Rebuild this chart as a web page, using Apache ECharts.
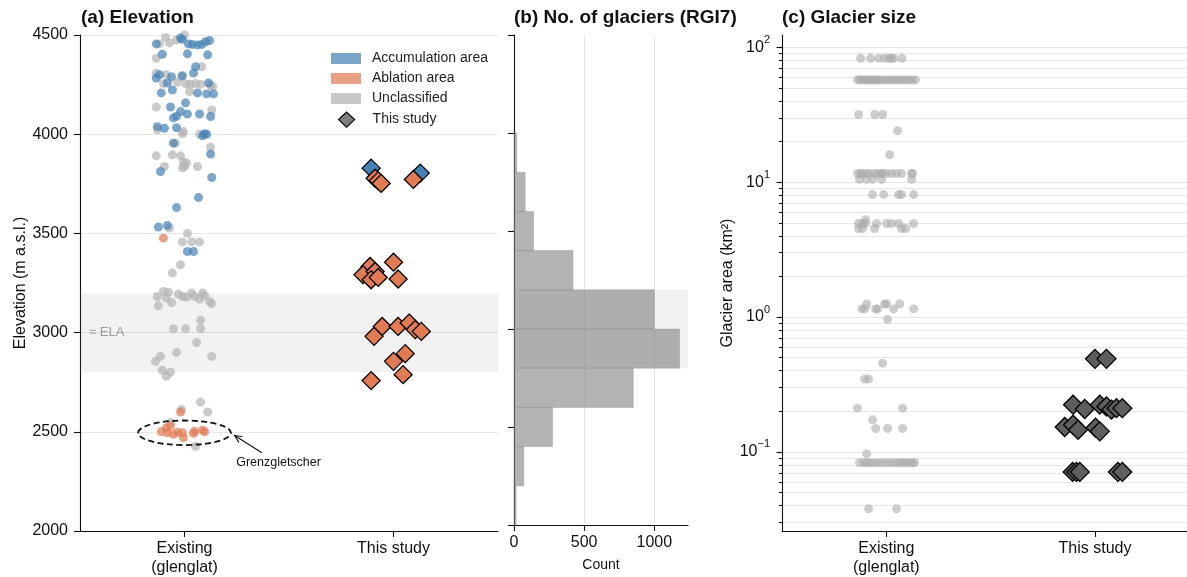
<!DOCTYPE html>
<html><head><meta charset="utf-8">
<script src="https://cdn.jsdelivr.net/npm/echarts@6.0.0/dist/echarts.min.js"></script>
<style>html,body{margin:0;padding:0;background:#fff}#c{width:1187px;height:577px}</style>
</head><body><div id="c"></div>
<script>
// ---------- text ----------
const categories = ['Existing\n(glenglat)', 'This study'];
const panelTitles = ['(a) Elevation', '(b) No. of glaciers (RGI7)', '(c) Glacier size'];
const legendNames = ['Accumulation area', 'Ablation area', 'Unclassified', 'This study'];

// ---------- panel (a): existing glenglat points (elevation m a.s.l., jitter in category units) ----------
const accElev = [4455,4485,4478,4455,4452,4450,4452,4466,4472,4403,4405,4400,4283,4300,4290,4295,4308,4340,4258,4223,4258,4208,4208,4203,4203,4137,4158,4114,4090,4082,4102,4102,4089,4038,4030,4033,3992,4002,4000,3955,3900,3812,3782,3681,3630,3532,3540,3409,3409];
const accJit = [-0.135,-0.019,-0.010,0.019,0.038,0.062,0.082,0.101,0.120,-0.106,0.014,0.111,-0.135,-0.120,-0.062,-0.010,0.043,0.053,-0.082,-0.058,0.115,-0.111,0.062,0.106,0.139,-0.067,0.005,-0.019,-0.038,-0.053,0.014,0.072,0.125,-0.130,-0.096,-0.038,0.087,0.096,0.106,-0.053,0.125,-0.115,0.130,0.067,-0.038,-0.125,-0.082,0.014,0.043];
const ablElev = [3476,2600,2500,2520,2495,2530,2487,2498,2495,2470,2503,2492,2508,2500];
const ablJit = [-0.101,-0.019,-0.111,-0.087,-0.082,-0.067,-0.053,-0.034,-0.010,-0.005,0.048,0.043,0.087,0.096];
const uncElev = [4500,4488,4475,4455,4460,4383,4307,4300,4290,4262,4255,4252,4255,4252,4245,4340,4215,4240,4255,4137,4122,4022,4013,4002,4000,3935,3955,3891,3896,3891,3860,3854,3837,3837,3837,3830,3527,3500,3457,3457,3457,3342,3300,
  3182,3207,3204,3194,3182,3199,3182,3199,3186,3157,3145,3152,3135,3174,3179,3169,
  3062,3020,3020,3020,2950,2900,2880,2880,2855,2810,2800,2780,2650,2612,2600,2548,2427];
const uncJit = [0.000,-0.091,-0.038,-0.120,-0.072,-0.135,-0.135,-0.087,-0.014,-0.034,0.005,0.029,0.053,0.077,0.125,0.082,0.024,0.135,-0.101,-0.135,0.130,-0.130,-0.005,-0.010,0.072,0.125,-0.043,-0.135,-0.058,-0.019,-0.005,0.010,0.000,0.062,-0.096,-0.010,-0.072,0.014,-0.010,0.034,0.072,-0.019,-0.058,
  -0.130,-0.101,-0.077,-0.029,-0.010,0.034,0.048,0.087,0.096,0.120,0.130,-0.062,-0.125,-0.087,0.010,0.072,
  0.077,-0.053,0.005,0.077,0.058,-0.038,0.130,-0.115,-0.139,-0.106,-0.067,-0.087,0.077,-0.014,0.111,-0.067,0.053];

// ---------- panel (a): this study ----------
const studyAccElev = [3829, 3804];
const studyAccJit = [-0.107, 0.128];
const studyAblElev = [3778,3765,3752,3772,3333,3292,3308,3266,3278,3355,3270,3031,2981,3031,3048,3015,3006,2894,2855,2788,2758];
const studyAblJit = [-0.088,-0.073,-0.059,0.095,-0.112,-0.146,-0.088,-0.107,-0.073,0.000,0.022,-0.054,-0.093,0.022,0.075,0.104,0.133,0.056,0.000,0.046,-0.107];

// ELA band and annotation
const elaBand = [2800, 3200];
const elaText = '≈ ELA';
const annEllipse = [0, 2495, 0.222, 62];   // centre x, centre elev, x radius, elev radius
const annArrowFrom = [0.37, 2394];
const annArrowTo = [0.24, 2481];
const annTextPos = [0.45, 2343];
const annText = 'Grenzgletscher';

// ---------- panel (b): RGI7 histogram ----------
const histEdges = [2000,2200,2400,2600,2800,3000,3200,3400,3600,3800,4000];
const histCounts = [15,70,275,850,1180,1000,420,140,80,20];
const countTicks = [0, 500, 1000];

// ---------- panel (c): glacier size (km²) ----------
const exRowArea = [83, 57.4, 31.8, 24.1, 16, 11.6, 10.5, 8.1, 4.94, 5.28, 4.54, 1.25, 1.15, 0.96, 0.455, 0.347, 0.211, 0.173, 0.149, 0.097, 0.083, 0.0378];
const exRowJitter = [
  [-0.123,-0.075,-0.036,-0.008,0.012,0.024,0.036,0.075],
  [-0.138,-0.128,-0.118,-0.109,-0.100,-0.090,-0.080,-0.071,-0.061,-0.051,-0.042,-0.032,-0.018,-0.003,0.011,0.025,0.040,0.054,0.069,0.083,0.097,0.112,0.126,0.140],
  [-0.133,-0.056,-0.018],
  [0.054],
  [0.016],
  [-0.138,-0.123,-0.114,-0.094,-0.080,-0.056,-0.042,-0.027,-0.018,0.001,0.025,0.049,0.073,0.121,0.126],
  [-0.128,-0.094,-0.066,-0.023,0.121],
  [-0.066,-0.013,0.059,0.073,0.131],
  [-0.133,-0.114,-0.100,-0.047,0.001,0.025,0.059,0.131],
  [-0.100],
  [-0.133,-0.114,-0.056,0.073,0.093],
  [-0.094,-0.008,0.001,0.064],
  [-0.118,-0.104,-0.051,-0.042,0.035,0.131],
  [0.006],
  [-0.018],
  [-0.104,-0.085],
  [-0.138,0.078],
  [-0.066],
  [-0.051,0.006,0.078],
  [-0.094],
  [-0.128,-0.109,-0.094,-0.080,-0.061,-0.042,-0.023,-0.003,0.016,0.035,0.054,0.069,0.083,0.097,0.112,0.126,0.136],
  [-0.085,0.049]
];
const studyArea = [0.49,0.49,0.224,0.208,0.224,0.217,0.206,0.211,0.211,0.153,0.159,0.146,0.151,0.142,0.071,0.071,0.071,0.071,0.071];
const studyAreaJit = [0.0,0.055,-0.105,-0.049,0.023,0.055,0.079,0.103,0.131,-0.145,-0.105,-0.081,0.003,0.023,-0.107,-0.089,-0.073,0.110,0.131];
const areaRange = [0.0259, 123.6];
const majorExps = [-1, 0, 1, 2];
const minorMult = [2,3,4,5,6,7,8,9];

// ---------- build ----------
const ACC = '#4682b4', ABL = '#e07b54', UNC = '#b3b3b3';
const FONT = 'Liberation Sans';
const lg = Math.log10;
const pts = (jit, vals, base) => jit.map((j, i) => [base + j, vals[i]]);

const logMin = lg(areaRange[0]), logMax = lg(areaRange[1]);
const majorLog = majorExps.slice();
const allLog = [];
for (let k = -2; k <= 2; k++) {
  allLog.push(k);
  minorMult.forEach(m => allLog.push(k + lg(m)));
}
const gridLog = allLog.filter(v => v >= logMin && v <= logMax);

const exAreaData = [];
exRowArea.forEach((a, r) => exRowJitter[r].forEach(j => exAreaData.push([j, lg(a)])));
const studyAreaData = studyAreaJit.map((j, i) => [1 + j, lg(studyArea[i])]);

const axisLineStyle = {color: '#111', width: 1.1};
const tickStyle = {color: '#111', width: 1.1};
const plain = v => String(Math.round(v));
const catAxisCommon = {
  type: 'value', min: -0.5,
  axisLine: {show: true, onZero: false, lineStyle: axisLineStyle},
  axisTick: {show: true, length: 6, lineStyle: tickStyle, customValues: [0, 1]},
  axisLabel: {customValues: [0, 1], formatter: v => categories[Math.round(v)], fontSize: 16, color: '#111', lineHeight: 19, margin: 8},
  splitLine: {show: false}
};
const sup = e => (e < 0 ? '\u2212' + Math.abs(e) : '' + e);

const option = {
  animation: false,
  textStyle: {fontFamily: FONT},
  title: [
    {text: panelTitles[0], left: 81, top: 8, padding: 0, textStyle: {fontSize: 19, fontWeight: 'bold', color: '#111', fontFamily: FONT}},
    {text: panelTitles[1], left: 514, top: 8, padding: 0, textStyle: {fontSize: 19, fontWeight: 'bold', color: '#111', fontFamily: FONT}},
    {text: panelTitles[2], left: 782, top: 8, padding: 0, textStyle: {fontSize: 19, fontWeight: 'bold', color: '#111', fontFamily: FONT}}
  ],
  legend: [
    {orient: 'vertical', left: 326, top: 46.5, itemWidth: 30, itemHeight: 11, itemGap: 6, selectedMode: false,
     textStyle: {fontSize: 14, color: '#222', lineHeight: 14, padding: [0, 0, 0, 6]},
     data: [
       {name: legendNames[0], icon: 'rect', itemStyle: {color: ACC, opacity: 0.72}},
       {name: legendNames[1], icon: 'rect', itemStyle: {color: ABL, opacity: 0.72}},
       {name: legendNames[2], icon: 'rect', itemStyle: {color: UNC, opacity: 0.72}}
     ]},
    {orient: 'vertical', left: 333, top: 106.5, itemWidth: 16, itemHeight: 15, selectedMode: false,
     textStyle: {fontSize: 14, color: '#222', lineHeight: 14, padding: [0, 0, 0, 13]},
     data: [{name: legendNames[3], icon: 'diamond', itemStyle: {color: '#7f7f7f', borderColor: '#000', borderWidth: 1.2}}]}
  ],
  grid: [
    {left: 80, top: 35, width: 418, height: 497},
    {left: 514, top: 35, width: 174, height: 497},
    {left: 782, top: 35, width: 405, height: 497}
  ],
  xAxis: [
    Object.assign({}, catAxisCommon, {gridIndex: 0, max: 1.5}),
    {type: 'value', gridIndex: 1, min: 0, max: 1240,
     name: 'Count', nameLocation: 'middle', nameGap: 33, nameTextStyle: {fontSize: 14, color: '#111'},
     axisLine: {show: true, onZero: false, lineStyle: axisLineStyle},
     axisTick: {show: true, length: 6, lineStyle: tickStyle, customValues: countTicks},
     axisLabel: {customValues: countTicks, formatter: plain, fontSize: 16, color: '#111', lineHeight: 19, margin: 8},
     splitLine: {show: true, lineStyle: {color: '#e6e6e6', width: 1}}},
    Object.assign({}, catAxisCommon, {gridIndex: 2, max: 1.441})
  ],
  yAxis: [
    {type: 'value', gridIndex: 0, min: 2000, max: 4500, interval: 500,
     name: 'Elevation (m a.s.l.)', nameLocation: 'middle', nameGap: 51, nameTextStyle: {fontSize: 16, color: '#111'},
     axisLine: {show: true, onZero: false, lineStyle: axisLineStyle},
     axisTick: {show: true, length: 6, lineStyle: tickStyle},
     axisLabel: {fontSize: 16, color: '#111', margin: 12, formatter: plain},
     splitLine: {show: true, lineStyle: {color: '#e6e6e6', width: 1}}},
    {type: 'value', gridIndex: 1, min: 2000, max: 4500, interval: 500,
     axisLine: {show: true, onZero: false, lineStyle: axisLineStyle},
     axisTick: {show: true, length: 6, lineStyle: tickStyle},
     axisLabel: {show: false},
     splitLine: {show: false}},
    {type: 'value', gridIndex: 2, min: logMin, max: logMax,
     name: 'Glacier area (km²)', nameLocation: 'middle', nameGap: 45, nameTextStyle: {fontSize: 16, color: '#111'},
     axisLine: {show: true, onZero: false, lineStyle: axisLineStyle},
     axisTick: {show: true, length: 3, lineStyle: tickStyle, customValues: gridLog},
     axisLabel: {customValues: majorLog, margin: 12, color: '#111',
       formatter: v => '{b|10}{s|' + sup(Math.round(v)) + '}',
       rich: {b: {fontSize: 16, lineHeight: 26, color: '#111', fontFamily: FONT},
              s: {fontSize: 11, lineHeight: 11, verticalAlign: 'top', color: '#111', fontFamily: FONT}}},
     splitLine: {show: true, lineStyle: {color: '#e6e6e6', width: 1}}},
    {type: 'value', gridIndex: 2, min: logMin, max: logMax, position: 'left',
     axisLine: {show: false, onZero: false},
     axisTick: {show: true, length: 5.5, lineStyle: tickStyle, customValues: majorLog},
     axisLabel: {show: false},
     splitLine: {show: false}}
  ],
  series: [
    // panel (a)
    {name: legendNames[2], type: 'scatter', xAxisIndex: 0, yAxisIndex: 0, symbolSize: 9,
     itemStyle: {color: UNC, opacity: 0.7}, data: pts(uncJit, uncElev, 0), z: 2,
     markArea: {silent: true, itemStyle: {color: 'rgba(128,128,128,0.1)'},
       label: {show: true, position: 'insideLeft', distance: 9, formatter: elaText, color: '#999', fontSize: 13, fontFamily: FONT},
       data: [[{yAxis: elaBand[0]}, {yAxis: elaBand[1]}]]}},
    {name: legendNames[0], type: 'scatter', xAxisIndex: 0, yAxisIndex: 0, symbolSize: 9,
     itemStyle: {color: ACC, opacity: 0.7}, data: pts(accJit, accElev, 0), z: 3},
    {name: legendNames[1], type: 'scatter', xAxisIndex: 0, yAxisIndex: 0, symbolSize: 9,
     itemStyle: {color: ABL, opacity: 0.7}, data: pts(ablJit, ablElev, 0), z: 3},
    {name: legendNames[3], type: 'scatter', xAxisIndex: 0, yAxisIndex: 0, symbol: 'diamond', symbolSize: 18,
     itemStyle: {color: ACC, borderColor: '#000', borderWidth: 1.3, opacity: 1}, data: pts(studyAccJit, studyAccElev, 1), z: 4},
    {name: legendNames[3], type: 'scatter', xAxisIndex: 0, yAxisIndex: 0, symbol: 'diamond', symbolSize: 18,
     itemStyle: {color: ABL, borderColor: '#000', borderWidth: 1.3, opacity: 1}, data: pts(studyAblJit, studyAblElev, 1), z: 5},
    {type: 'custom', xAxisIndex: 0, yAxisIndex: 0, z: 6, silent: true,
     data: [[annEllipse[0], annEllipse[1]]],
     renderItem: function (params, api) {
       const c = api.coord([annEllipse[0], annEllipse[1]]);
       const s = api.size([annEllipse[2], annEllipse[3]]);
       const t0 = api.coord(annArrowFrom), t1 = api.coord(annArrowTo);
       const ang = Math.atan2(t0[1] - t1[1], t0[0] - t1[0]);
       const h = 8, w = 0.45;
       const a1 = [t1[0] + h * Math.cos(ang + w), t1[1] + h * Math.sin(ang + w)];
       const a2 = [t1[0] + h * Math.cos(ang - w), t1[1] + h * Math.sin(ang - w)];
       const tp = api.coord(annTextPos);
       return {type: 'group', children: [
         {type: 'ellipse', shape: {cx: c[0], cy: c[1], rx: s[0], ry: s[1]}, style: {fill: 'none', stroke: '#111', lineWidth: 1.8, lineDash: [6, 3.5]}},
         {type: 'line', shape: {x1: t0[0], y1: t0[1], x2: t1[0], y2: t1[1]}, style: {stroke: '#111', lineWidth: 1.1}},
         {type: 'polyline', shape: {points: [a1, t1, a2]}, style: {stroke: '#111', lineWidth: 1.1, fill: 'none'}},
         {type: 'text', x: tp[0], y: tp[1], style: {text: annText, fill: '#111', fontSize: 12.5, fontFamily: FONT, align: 'center', verticalAlign: 'middle'}}
       ]};
     }},
    // panel (b)
    {type: 'custom', xAxisIndex: 1, yAxisIndex: 1, z: 2, silent: true,
     data: histCounts.map((c, i) => [histEdges[i], histEdges[i + 1], c]),
     encode: {x: 2, y: [0, 1]},
     renderItem: function (params, api) {
       const p0 = api.coord([0, api.value(1)]);
       const p1 = api.coord([api.value(2), api.value(0)]);
       return {type: 'rect', shape: {x: p0[0], y: p0[1], width: p1[0] - p0[0], height: p1[1] - p0[1]},
               style: {fill: 'rgba(128,128,128,0.6)', stroke: 'rgba(128,128,128,0.5)', lineWidth: 0.6}};
     },
     markArea: {silent: true, itemStyle: {color: 'rgba(128,128,128,0.1)'},
       data: [[{yAxis: elaBand[0]}, {yAxis: elaBand[1]}]]}},
    // panel (c)
    {name: 'glenglat area', type: 'scatter', xAxisIndex: 2, yAxisIndex: 2, symbolSize: 9,
     itemStyle: {color: '#ababab', opacity: 0.6}, data: exAreaData, z: 2},
    {name: legendNames[3], type: 'scatter', xAxisIndex: 2, yAxisIndex: 2, symbol: 'diamond', symbolSize: 19,
     itemStyle: {color: '#5e5e5e', borderColor: '#000', borderWidth: 1.3, opacity: 1}, data: studyAreaData, z: 4}
  ]
};
const chart = echarts.init(document.getElementById('c'), null, {renderer: 'canvas'});
chart.setOption(option);
</script></body></html>
